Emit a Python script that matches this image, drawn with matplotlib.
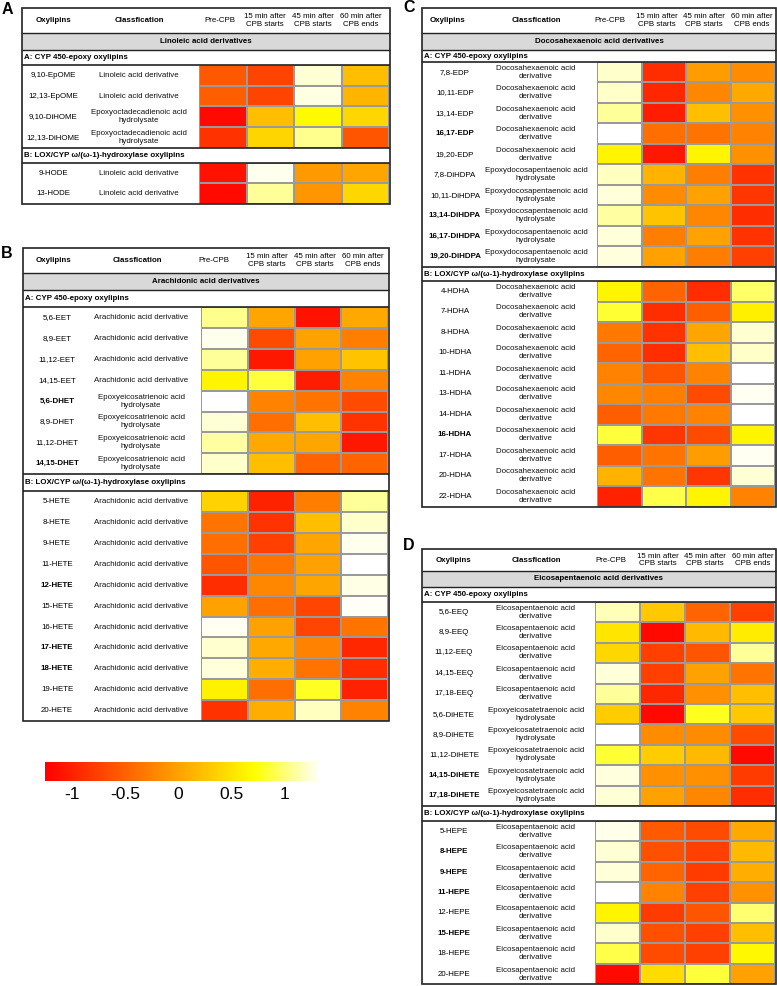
import numpy as np
import matplotlib
matplotlib.use('Agg')
import matplotlib.pyplot as plt
from matplotlib.colors import LinearSegmentedColormap, Normalize
from matplotlib.cm import ScalarMappable
from matplotlib.patches import Rectangle

plt.rcParams['font.family'] = ['Liberation Sans', 'DejaVu Sans']

W, H = 777, 986

# ---------------- data ----------------
time_headers = ['Pre-CPB', '15 min after\nCPB starts', '45 min after\nCPB starts', '60 min after\nCPB ends']
col_headers = ['Oxylipins', 'Classfication']
sec_titles = ['A: CYP 450-epoxy oxylipins', 'B: LOX/CYP \u03c9/(\u03c9-1)-hydroxylase oxylipins']
cbar_ticks = [-1, -0.5, 0, 0.5, 1]
cbar_ticklabels = ['-1', '-0.5', '0', '0.5', '1']

# Panel A: Linoleic acid
la_title = 'Linoleic acid derivatives'
la_epoxy_names = ['9,10-EpOME', '12,13-EpOME', '9,10-DiHOME', '12,13-DiHOME']
la_epoxy_class = ['Linoleic acid derivative', 'Linoleic acid derivative',
                  'Epoxyoctadecadienoic acid\nhydrolysate', 'Epoxyoctadecadienoic acid\nhydrolysate']
la_epoxy_vals = [[-0.56, -0.73, 1.22, 0.22],
                 [-0.52, -0.73, 1.25, 0.15],
                 [-1.17, 0.22, 0.68, 0.41],
                 [-0.86, 0.40, 1.05, -0.59]]
la_hydroxy_names = ['9-HODE', '13-HODE']
la_hydroxy_class = ['Linoleic acid derivative', 'Linoleic acid derivative']
la_hydroxy_vals = [[-1.10, 1.28, -0.07, 0.02],
                   [-1.17, 1.08, -0.10, 0.41]]
la_bold = []

# Panel B: Arachidonic acid
aa_title = 'Arachidonic acid derivatives'
aa_epoxy_names = ['5,6-EET', '8,9-EET', '11,12-EET', '14,15-EET',
                  '5,6-DHET', '8,9-DHET', '11,12-DHET', '14,15-DHET']
aa_epoxy_class = ['Arachidonic acid derivative'] * 4 + ['Epoxyeicosatrienoic acid\nhydrolysate'] * 4
aa_epoxy_vals = [[1.05, 0.02, -1.10, 0.06],
                 [1.28, -0.67, -0.01, -0.28],
                 [1.08, -1.06, -0.01, 0.26],
                 [0.64, 0.86, -1.02, -0.25],
                 [1.32, -0.25, -0.36, -0.67],
                 [1.22, -0.40, 0.22, -0.86],
                 [1.10, 0.06, 0.02, -1.06],
                 [1.20, 0.22, -0.48, -0.48]]
aa_hydroxy_names = ['5-HETE', '8-HETE', '9-HETE', '11-HETE', '12-HETE', '15-HETE',
                    '16-HETE', '17-HETE', '18-HETE', '19-HETE', '20-HETE']
aa_hydroxy_class = ['Arachidonic acid derivative'] * 11
aa_hydroxy_vals = [[0.37, -0.98, -0.28, 1.08],
                   [-0.36, -0.86, 0.22, 1.20],
                   [-0.40, -0.75, 0.02, 1.28],
                   [-0.59, -0.36, -0.01, 1.32],
                   [-0.90, -0.21, 0.02, 1.26],
                   [-0.01, -0.40, -0.71, 1.30],
                   [1.29, -0.01, -0.71, -0.36],
                   [1.21, 0.06, -0.25, -0.94],
                   [1.23, 0.10, -0.36, -0.90],
                   [0.62, -0.40, 0.80, -0.98],
                   [-0.86, 0.10, 1.17, -0.25]]
aa_bold = ['5,6-DHET', '14,15-DHET', '12-HETE', '17-HETE', '18-HETE']

# Panel C: Docosahexaenoic acid
dha_title = 'Docosahexaenoic acid derivatives'
dha_epoxy_names = ['7,8-EDP', '10,11-EDP', '13,14-EDP', '16,17-EDP', '19,20-EDP',
                   '7,8-DiHDPA', '10,11-DiHDPA', '13,14-DiHDPA', '16,17-DiHDPA', '19,20-DiHDPA']
dha_epoxy_class = ['Docosahexaenoic acid\nderivative'] * 5 + ['Epoxydocosapentaenoic acid\nhydrolysate'] * 5
dha_epoxy_vals = [[1.20, -0.90, -0.05, -0.17],
                  [1.19, -0.94, -0.21, 0.06],
                  [1.08, -1.02, 0.22, -0.13],
                  [1.33, -0.40, -0.36, -0.25],
                  [0.64, -1.06, 0.64, -0.13],
                  [1.17, 0.14, -0.28, -0.86],
                  [1.23, -0.17, -0.01, -0.83],
                  [1.10, 0.26, -0.21, -0.90],
                  [1.23, -0.28, -0.01, -0.86],
                  [1.24, -0.01, -0.28, -0.75]]
dha_hydroxy_names = ['4-HDHA', '7-HDHA', '8-HDHA', '10-HDHA', '11-HDHA', '13-HDHA',
                     '14-HDHA', '16-HDHA', '17-HDHA', '20-HDHA', '22-HDHA']
dha_hydroxy_class = ['Docosahexaenoic acid\nderivative'] * 11
dha_hydroxy_vals = [[0.64, -0.48, -0.90, 0.96],
                    [0.84, -0.90, -0.52, 0.60],
                    [-0.32, -0.86, 0.02, 1.21],
                    [-0.48, -0.90, 0.22, 1.19],
                    [-0.25, -0.59, -0.25, 1.32],
                    [-0.21, -0.28, -0.67, 1.29],
                    [-0.52, -0.32, -0.25, 1.32],
                    [0.86, -0.83, -0.67, 0.64],
                    [-0.52, -0.36, -0.05, 1.29],
                    [0.14, -0.36, -0.83, 1.22],
                    [-0.98, 0.89, 0.64, -0.25]]
dha_bold = ['16,17-EDP', '13,14-DiHDPA', '16,17-DiHDPA', '19,20-DiHDPA', '16-HDHA']

# Panel D: Eicosapentaenoic acid
epa_title = 'Eicosapentaenoic acid derivatives'
epa_epoxy_names = ['5,6-EEQ', '8,9-EEQ', '11,12-EEQ', '14,15-EEQ', '17,18-EEQ',
                   '5,6-DiHETE', '8,9-DiHETE', '11,12-DiHETE', '14,15-DiHETE', '17,18-DiHETE']
epa_epoxy_class = ['Eicosapentaenoic acid\nderivative'] * 5 + ['Epoxyeicosatetraenoic acid\nhydrolysate'] * 5
epa_epoxy_vals = [[1.15, 0.30, -0.48, -0.75],
                  [0.53, -1.17, 0.18, 0.57],
                  [0.41, -0.75, -0.59, 1.08],
                  [1.23, -0.75, -0.01, -0.36],
                  [1.08, -0.94, -0.13, 0.22],
                  [0.33, -1.17, 0.79, 0.30],
                  [1.33, -0.17, -0.17, -0.67],
                  [0.84, 0.33, 0.18, -1.17],
                  [1.24, -0.13, -0.13, -0.79],
                  [1.22, -0.01, -0.21, -0.90]]
epa_hydroxy_names = ['5-HEPE', '8-HEPE', '9-HEPE', '11-HEPE', '12-HEPE', '15-HEPE', '18-HEPE', '20-HEPE']
epa_hydroxy_class = ['Eicosapentaenoic acid\nderivative'] * 8
epa_hydroxy_vals = [[1.27, -0.55, -0.67, 0.06],
                    [1.22, -0.63, -0.75, 0.18],
                    [1.23, -0.48, -0.79, 0.10],
                    [1.33, -0.25, -0.75, -0.13],
                    [0.64, -0.79, -0.59, 0.98],
                    [1.20, -0.63, -0.75, 0.22],
                    [0.89, -0.67, -0.75, 0.66],
                    [-1.17, 0.45, 0.86, -0.01]]
epa_bold = ['14,15-DiHETE', '17,18-DiHETE', '8-HEPE', '9-HEPE', '11-HEPE', '15-HEPE']

# ---------------- colour scale ----------------
vmin, vmax, vyellow = -1.25, 1.33, 0.72
cmap = LinearSegmentedColormap.from_list(
    'ryw', [(0.0, (1, 0, 0)), ((vyellow - vmin) / (vmax - vmin), (1, 1, 0)), (1.0, (1, 1, 1))])
norm = Normalize(vmin=vmin, vmax=vmax)

# ---------------- layout (pixels) ----------------
panels = [
    dict(label='A', label_xy=(7, 9), title=la_title, left=22, right=390, top=8,
         header_h=25, gray_h=17, sec_h=[15, 15], row_h=20.7, hm_left=199, hm_right=389,
         name_x=53, class_x=139, head_x=[54, 139, 220, 265, 313, 361],
         sections=[(la_epoxy_names, la_epoxy_class, la_epoxy_vals),
                   (la_hydroxy_names, la_hydroxy_class, la_hydroxy_vals)], bold=la_bold),
    dict(label='B', label_xy=(7, 253), title=aa_title, left=23, right=389, top=248,
         header_h=25, gray_h=17, sec_h=[17, 17], row_h=20.9, hm_left=201, hm_right=388,
         name_x=57, class_x=141, head_x=[54, 137, 214, 267, 315, 363],
         sections=[(aa_epoxy_names, aa_epoxy_class, aa_epoxy_vals),
                   (aa_hydroxy_names, aa_hydroxy_class, aa_hydroxy_vals)], bold=aa_bold),
    dict(label='C', label_xy=(409, 8), title=dha_title, left=422, right=776, top=8,
         header_h=25, gray_h=17, sec_h=[12, 14], row_h=20.5, hm_left=597, hm_right=775,
         name_x=455, class_x=536, head_x=[448, 536, 610, 657, 704, 752],
         sections=[(dha_epoxy_names, dha_epoxy_class, dha_epoxy_vals),
                   (dha_hydroxy_names, dha_hydroxy_class, dha_hydroxy_vals)], bold=dha_bold),
    dict(label='D', label_xy=(409, 546), title=epa_title, left=422, right=776, top=549,
         header_h=22, gray_h=16, sec_h=[15, 15], row_h=20.4, hm_left=595, hm_right=775,
         name_x=454, class_x=536, head_x=[454, 536, 611, 658, 705, 753],
         sections=[(epa_epoxy_names, epa_epoxy_class, epa_epoxy_vals),
                   (epa_hydroxy_names, epa_hydroxy_class, epa_hydroxy_vals)], bold=epa_bold),
]

FS = 5.7
LINE = '#222222'

fig = plt.figure(figsize=(W / 100, H / 100), dpi=100)
fig.patch.set_facecolor('white')

bg = fig.add_axes([0, 0, 1, 1], zorder=0)
bg.set_xlim(0, W); bg.set_ylim(H, 0); bg.axis('off')
fg = fig.add_axes([0, 0, 1, 1], zorder=20)
fg.set_xlim(0, W); fg.set_ylim(H, 0); fg.axis('off'); fg.patch.set_alpha(0)


def hline(ax, x0, x1, y, lw=1.0):
    ax.plot([x0, x1], [y, y], color=LINE, lw=lw, solid_capstyle='butt')


for p in panels:
    L, R, top = p['left'], p['right'], p['top']
    bg.text(p['label_xy'][0], p['label_xy'][1], p['label'], fontsize=11.5, fontweight='bold',
            ha='center', va='center')
    # header
    yc = top + p['header_h'] / 2
    hx = p['head_x']
    bg.text(hx[0], yc, col_headers[0], fontsize=FS, fontweight='bold', ha='center', va='center')
    bg.text(hx[1], yc, col_headers[1], fontsize=FS, fontweight='bold', ha='center', va='center')
    for k, t in enumerate(time_headers):
        bg.text(hx[2 + k], yc, t, fontsize=FS, ha='center', va='center', linespacing=1.15)
    y = top + p['header_h']
    # grey title row
    bg.add_patch(Rectangle((L, y), R - L, p['gray_h'], facecolor='#d9d9d9', edgecolor='none'))
    hline(fg, L, R, y)
    bg.text((L + R) / 2, y + p['gray_h'] / 2, p['title'], fontsize=FS, fontweight='bold',
            ha='center', va='center')
    y += p['gray_h']
    hline(fg, L, R, y)
    for s, (names, classes, vals) in enumerate(p['sections']):
        sh = p['sec_h'][s]
        bg.text(L + 2, y + sh / 2, sec_titles[s], fontsize=FS, fontweight='bold',
                ha='left', va='center')
        if s > 0:
            hline(fg, L, R, y, lw=1.2)
        y += sh
        hline(fg, L, R, y, lw=1.2)
        n = len(names)
        rh = p['row_h']
        ax = fig.add_axes([p['hm_left'] / W, 1 - (y + n * rh) / H,
                           (p['hm_right'] - p['hm_left']) / W, n * rh / H], zorder=5)
        ax.pcolormesh(np.array(vals), cmap=cmap, norm=norm, edgecolors='#9a9a9a', linewidth=1.1)
        ax.set_xlim(0, len(time_headers)); ax.set_ylim(n, 0); ax.axis('off')
        for i in range(n):
            cy = y + (i + 0.5) * rh
            bg.text(p['name_x'], cy, names[i], fontsize=FS, ha='center', va='center',
                    fontweight='bold' if names[i] in p['bold'] else 'normal')
            bg.text(p['class_x'], cy, classes[i], fontsize=FS, ha='center', va='center',
                    linespacing=1.2, color='#111111')
        y += n * rh
    fg.add_patch(Rectangle((L, top), R - L, y - top, facecolor='none', edgecolor=LINE, lw=1.2))

# colour bar
cax = fig.add_axes([45 / W, 1 - 781 / H, 275 / W, 19 / H])
cb = fig.colorbar(ScalarMappable(norm=norm, cmap=cmap), cax=cax, orientation='horizontal')
cb.set_ticks(cbar_ticks)
cb.set_ticklabels(cbar_ticklabels)
cb.outline.set_visible(False)
cax.tick_params(length=0, labelsize=12.5, pad=4)

fig.savefig('out.png', dpi=100, facecolor='white')
